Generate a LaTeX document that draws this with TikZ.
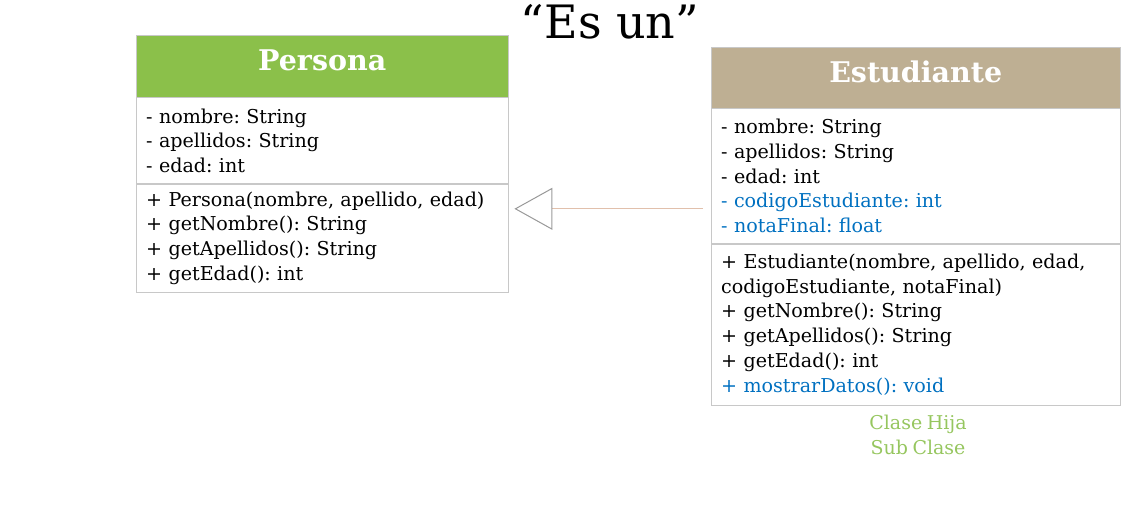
\documentclass[tikz,border=0pt]{standalone}
\usepackage{fontspec}
\setmainfont[WordSpace=0.75]{DejaVu Serif}
\newfontfamily\titlefont{DejaVu Serif}
\usetikzlibrary{positioning, arrows.meta}
\definecolor{headgreen}{RGB}{139,192,74}
\definecolor{headtan}{RGB}{190,175,147}
\definecolor{attrblue}{RGB}{0,112,192}
\definecolor{boxgray}{RGB}{200,200,200}
\definecolor{linktan}{RGB}{225,192,172}
\definecolor{notegreen}{RGB}{150,198,95}
\frenchspacing

\begin{document}
\begin{tikzpicture}[x=1pt, y=-1pt,
	classhead/.style={draw=boxgray, inner sep=0pt, anchor=north west, text height=20pt, text depth=11pt, text=white, font=\fontsize{28.5}{32}\selectfont\bfseries},
	classpart/.style={draw=boxgray, align=left, inner xsep=10pt, inner ysep=0pt, font=\fontsize{19.1}{24.7}\selectfont},
	link/.style={linktan, line width=1pt, shorten <=8pt, shorten >=6pt, -{Triangle[open, length=38pt, width=42pt, color=gray!80]}}
]
	\useasboundingbox (0,0) rectangle (1141,523);
	\node[font=\titlefont\fontsize{46}{50}\selectfont] (title) at (610,22) {“Es un”};

	% clase padre
	\node[classhead, fill=headgreen, minimum width=372pt, minimum height=62pt] (per-head) at (136,35) {Persona};
	\node[classpart, below=0pt of per-head, text width=352pt, minimum height=86pt] (per-attr) {- nombre: String\\- apellidos: String\\- edad: int};
	\node[classpart, below=0pt of per-attr, text width=352pt, minimum height=108pt] (per-meth) {+ Persona(nombre, apellido, edad)\\+ getNombre(): String\\+ getApellidos(): String\\+ getEdad(): int};

	% clase hija
	\node[classhead, fill=headtan, minimum width=409pt, minimum height=61pt] (est-head) at (711,47) {Estudiante};
	\node[classpart, below=0pt of est-head, text width=389pt, minimum height=135pt] (est-attr) {- nombre: String\\- apellidos: String\\- edad: int\\{\color{attrblue}- codigoEstudiante: int}\\{\color{attrblue}- notaFinal: float}};
	\node[classpart, below=0pt of est-attr, text width=389pt, minimum height=161pt] (est-meth) {+ Estudiante(nombre, apellido, edad,\\codigoEstudiante, notaFinal)\\+ getNombre(): String\\+ getApellidos(): String\\+ getEdad(): int\\{\color{attrblue}+ mostrarDatos(): void}};
	\node[text=notegreen, align=center, font=\fontsize{19}{25}\selectfont] (note) at (918,435) {Clase Hija\\Sub Clase};

	% herencia
	\coordinate (per-in) at ([yshift=-25pt]per-meth.north east);
	\draw[link] (est-attr.west |- per-in) -- (per-in);
\end{tikzpicture}
\end{document}
